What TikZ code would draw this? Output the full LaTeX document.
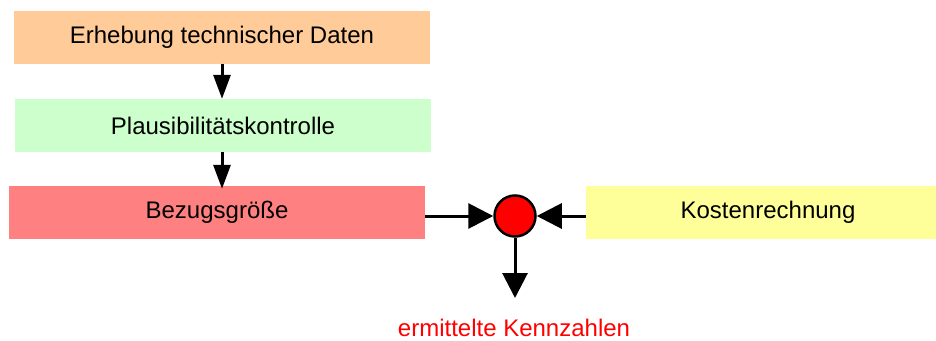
\documentclass[tikz,border=0pt]{standalone}
\usepackage{fontspec}
\setmainfont{Liberation Sans}
\usetikzlibrary{arrows.meta}
\definecolor{orangebox}{HTML}{FFCC99}
\definecolor{greenbox}{HTML}{CCFFCC}
\definecolor{redbox}{HTML}{FF8080}
\definecolor{yellowbox}{HTML}{FFFF99}
\begin{document}
\begin{tikzpicture}[x=1pt,y=-1pt,
  box/.style={draw=none, minimum height=53pt, inner sep=0pt, font=\fontsize{24}{28}\selectfont, text=black},
  flow/.style={line width=3pt, -{Triangle[length=24pt,width=17pt]}},
  mergearrow/.style={line width=3pt, -{Triangle[length=25pt,width=25pt]}}]
  \useasboundingbox (0,0) rectangle (936,340);
  \node[box, fill=orangebox, minimum width=416pt] (erh) at (222,37) {Erhebung technischer Daten};
  \node[box, fill=greenbox, minimum width=416pt] (pla) at (223,125.5) {Plausibilitätskontrolle};
  \node[box, fill=redbox, minimum width=416pt] (bez) at (217,212.5) {Bezugsgröße};
  \node[box, fill=yellowbox, minimum width=350pt] (kos) at (761,212.5) {\hspace*{14pt}Kostenrechnung};
  \node[circle, draw=black, line width=2.5pt, fill=red, minimum size=41pt, inner sep=0pt] (sum) at (515,216) {};
  \node[text=red, font=\fontsize{24}{28}\selectfont] (ken) at (514,328) {ermittelte Kennzahlen};
  \coordinate (out) at (515,298);
  \draw[flow] (erh.south -| 222,0) -- (pla.north -| 222,0);
  \draw[flow] (pla.south -| 222,0) -- ([yshift=-3pt]bez.north -| 222,0);
  \draw[mergearrow] (bez.east |- sum) -- (sum.west);
  \draw[mergearrow] (kos.west |- sum) -- (sum.east);
  \draw[mergearrow] (sum.south) -- (out);
\end{tikzpicture}
\end{document}
